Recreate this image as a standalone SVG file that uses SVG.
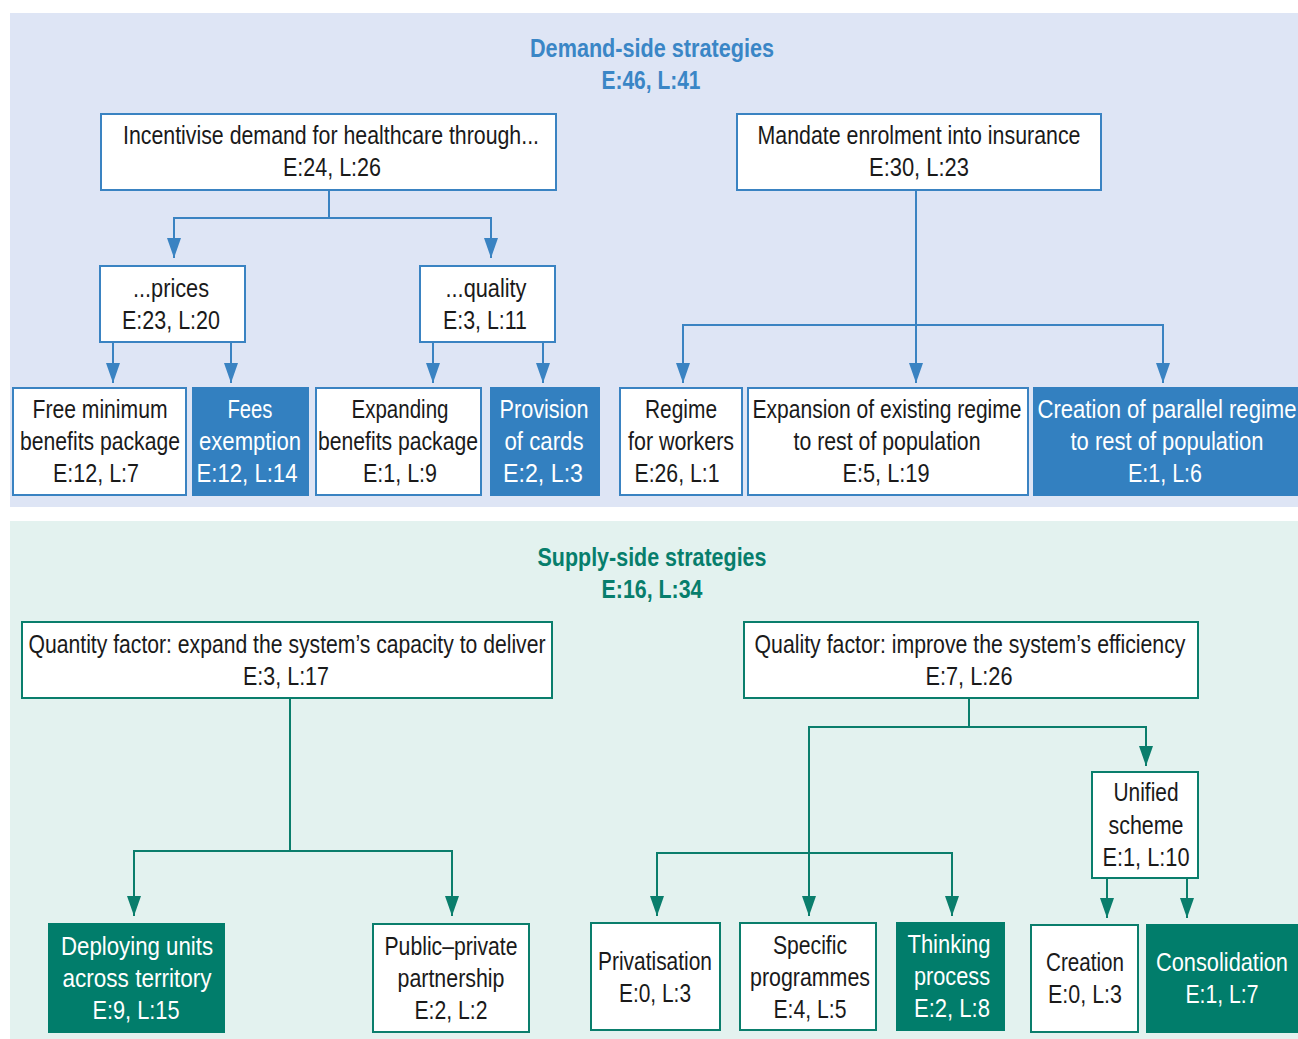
<svg xmlns="http://www.w3.org/2000/svg" width="1298" height="1039" viewBox="0 0 1298 1039">
<style>
text{font-family:"Liberation Sans Narrow","Liberation Sans",Arial,sans-serif;font-size:26px;text-anchor:middle}
.t{font-weight:bold}
.bt{fill:#3a86c6}
.gt{fill:#077e6c}
.bb{fill:#ffffff;stroke:#3a83c2;stroke-width:2}
.bf{fill:#3380c0;stroke:#3380c0;stroke-width:2}
.gb{fill:#ffffff;stroke:#0a7e6c;stroke-width:2}
.gf{fill:#017d6b;stroke:#017d6b;stroke-width:2}
.k{fill:#1a1a1a}
.w{fill:#ffffff}
.cb{fill:none;stroke:#3a83c2;stroke-width:2}
.cg{fill:none;stroke:#0a7e6c;stroke-width:2}
</style>
<defs>
<marker id="ab" markerUnits="userSpaceOnUse" markerWidth="14" markerHeight="20" refX="7" refY="20" orient="0" viewBox="0 0 14 20"><path d="M0,0 L14,0 L7,20 z" fill="#3a83c2"/></marker>
<marker id="ag" markerUnits="userSpaceOnUse" markerWidth="14" markerHeight="20" refX="7" refY="20" orient="0" viewBox="0 0 14 20"><path d="M0,0 L14,0 L7,20 z" fill="#0a7e6c"/></marker>
</defs>
<rect x="0" y="0" width="1298" height="1039" fill="#ffffff"/>
<rect x="10" y="13" width="1288" height="494" fill="#dee5f5"/>
<rect x="10" y="521" width="1288" height="518" fill="#e3f2ef"/>

<g id="title-demand">
<text class="t bt" x="652" y="57" textLength="244" lengthAdjust="spacingAndGlyphs">Demand-side strategies</text>
<text class="t bt" x="651" y="89" textLength="99" lengthAdjust="spacingAndGlyphs">E:46, L:41</text>
</g>
<g id="title-supply">
<text class="t gt" x="652" y="566" textLength="229" lengthAdjust="spacingAndGlyphs">Supply-side strategies</text>
<text class="t gt" x="652" y="598" textLength="101" lengthAdjust="spacingAndGlyphs">E:16, L:34</text>
</g>

<g id="connectors">
<path class="cb" d="M329,190 V218 H174 V258" marker-end="url(#ab)"/>
<path class="cb" d="M329,218 H491 V258" marker-end="url(#ab)"/>
<path class="cb" d="M113,342 V383" marker-end="url(#ab)"/>
<path class="cb" d="M231,342 V383" marker-end="url(#ab)"/>
<path class="cb" d="M433,342 V383" marker-end="url(#ab)"/>
<path class="cb" d="M543,342 V383" marker-end="url(#ab)"/>
<path class="cb" d="M916,190 V383" marker-end="url(#ab)"/>
<path class="cb" d="M916,325 H683 V383" marker-end="url(#ab)"/>
<path class="cb" d="M916,325 H1163 V383" marker-end="url(#ab)"/>
<path class="cg" d="M290,698 V851 H134 V916" marker-end="url(#ag)"/>
<path class="cg" d="M290,851 H452 V916" marker-end="url(#ag)"/>
<path class="cg" d="M969,698 V727 H1146 V766" marker-end="url(#ag)"/>
<path class="cg" d="M969,727 H809 V916" marker-end="url(#ag)"/>
<path class="cg" d="M809,853 H657 V916" marker-end="url(#ag)"/>
<path class="cg" d="M809,853 H952 V916" marker-end="url(#ag)"/>
<path class="cg" d="M1107,878 V918" marker-end="url(#ag)"/>
<path class="cg" d="M1187,878 V918" marker-end="url(#ag)"/>
</g>

<g id="incentivise">
<rect class="bb" x="101" y="114" width="455" height="76"/>
<text class="k" x="331" y="144" textLength="416" lengthAdjust="spacingAndGlyphs">Incentivise demand for healthcare through...</text>
<text class="k" x="332" y="176" textLength="98" lengthAdjust="spacingAndGlyphs">E:24, L:26</text>
</g>
<g id="mandate">
<rect class="bb" x="737" y="114" width="364" height="76"/>
<text class="k" x="919" y="144" textLength="323" lengthAdjust="spacingAndGlyphs">Mandate enrolment into insurance</text>
<text class="k" x="919" y="176" textLength="100" lengthAdjust="spacingAndGlyphs">E:30, L:23</text>
</g>
<g id="prices">
<rect class="bb" x="100" y="266" width="145" height="76"/>
<text class="k" x="171" y="297" textLength="76" lengthAdjust="spacingAndGlyphs">...prices</text>
<text class="k" x="171" y="329" textLength="98" lengthAdjust="spacingAndGlyphs">E:23, L:20</text>
</g>
<g id="quality">
<rect class="bb" x="420" y="266" width="135" height="76"/>
<text class="k" x="486" y="297" textLength="81" lengthAdjust="spacingAndGlyphs">...quality</text>
<text class="k" x="485" y="329" textLength="84" lengthAdjust="spacingAndGlyphs">E:3, L:11</text>
</g>
<g id="free-minimum">
<rect class="bb" x="13" y="388" width="173" height="107"/>
<text class="k" x="100" y="418" textLength="135" lengthAdjust="spacingAndGlyphs">Free minimum</text>
<text class="k" x="100" y="450" textLength="160" lengthAdjust="spacingAndGlyphs">benefits package</text>
<text class="k" x="96" y="482" textLength="86" lengthAdjust="spacingAndGlyphs">E:12, L:7</text>
</g>
<g id="fees-exemption">
<rect class="bf" x="193" y="388" width="115" height="107"/>
<text class="w" x="250" y="418" textLength="45" lengthAdjust="spacingAndGlyphs">Fees</text>
<text class="w" x="250" y="450" textLength="102" lengthAdjust="spacingAndGlyphs">exemption</text>
<text class="w" x="247" y="482" textLength="101" lengthAdjust="spacingAndGlyphs">E:12, L:14</text>
</g>
<g id="expanding">
<rect class="bb" x="316" y="388" width="165" height="107"/>
<text class="k" x="400" y="418" textLength="97" lengthAdjust="spacingAndGlyphs">Expanding</text>
<text class="k" x="398" y="450" textLength="160" lengthAdjust="spacingAndGlyphs">benefits package</text>
<text class="k" x="400" y="482" textLength="74" lengthAdjust="spacingAndGlyphs">E:1, L:9</text>
</g>
<g id="provision">
<rect class="bf" x="491" y="388" width="108" height="107"/>
<text class="w" x="544" y="418" textLength="89" lengthAdjust="spacingAndGlyphs">Provision</text>
<text class="w" x="544" y="450" textLength="79" lengthAdjust="spacingAndGlyphs">of cards</text>
<text class="w" x="543" y="482" textLength="80" lengthAdjust="spacingAndGlyphs">E:2, L:3</text>
</g>
<g id="regime-workers">
<rect class="bb" x="620" y="388" width="122" height="107"/>
<text class="k" x="681" y="418" textLength="72" lengthAdjust="spacingAndGlyphs">Regime</text>
<text class="k" x="681" y="450" textLength="106" lengthAdjust="spacingAndGlyphs">for workers</text>
<text class="k" x="677" y="482" textLength="85" lengthAdjust="spacingAndGlyphs">E:26, L:1</text>
</g>
<g id="expansion-existing">
<rect class="bb" x="748" y="388" width="280" height="107"/>
<text class="k" x="887" y="418" textLength="269" lengthAdjust="spacingAndGlyphs">Expansion of existing regime</text>
<text class="k" x="887" y="450" textLength="187" lengthAdjust="spacingAndGlyphs">to rest of population</text>
<text class="k" x="886" y="482" textLength="87" lengthAdjust="spacingAndGlyphs">E:5, L:19</text>
</g>
<g id="creation-parallel">
<rect class="bf" x="1034" y="388" width="264" height="107"/>
<text class="w" x="1167" y="418" textLength="259" lengthAdjust="spacingAndGlyphs">Creation of parallel regime</text>
<text class="w" x="1167" y="450" textLength="193" lengthAdjust="spacingAndGlyphs">to rest of population</text>
<text class="w" x="1165" y="482" textLength="74" lengthAdjust="spacingAndGlyphs">E:1, L:6</text>
</g>

<g id="quantity-factor">
<rect class="gb" x="22" y="622" width="530" height="76"/>
<text class="k" x="287" y="653" textLength="517" lengthAdjust="spacingAndGlyphs">Quantity factor: expand the system’s capacity to deliver</text>
<text class="k" x="286" y="685" textLength="86" lengthAdjust="spacingAndGlyphs">E:3, L:17</text>
</g>
<g id="quality-factor">
<rect class="gb" x="744" y="622" width="454" height="76"/>
<text class="k" x="970" y="653" textLength="431" lengthAdjust="spacingAndGlyphs">Quality factor: improve the system’s efficiency</text>
<text class="k" x="969" y="685" textLength="87" lengthAdjust="spacingAndGlyphs">E:7, L:26</text>
</g>
<g id="unified-scheme">
<rect class="gb" x="1092" y="772" width="106" height="106"/>
<text class="k" x="1146" y="801" textLength="65" lengthAdjust="spacingAndGlyphs">Unified</text>
<text class="k" x="1146" y="834" textLength="75" lengthAdjust="spacingAndGlyphs">scheme</text>
<text class="k" x="1146" y="866" textLength="87" lengthAdjust="spacingAndGlyphs">E:1, L:10</text>
</g>
<g id="deploying-units">
<rect class="gf" x="49" y="924" width="175" height="108"/>
<text class="w" x="137" y="955" textLength="152" lengthAdjust="spacingAndGlyphs">Deploying units</text>
<text class="w" x="137" y="987" textLength="149" lengthAdjust="spacingAndGlyphs">across territory</text>
<text class="w" x="136" y="1019" textLength="87" lengthAdjust="spacingAndGlyphs">E:9, L:15</text>
</g>
<g id="public-private">
<rect class="gb" x="373" y="924" width="156" height="108"/>
<text class="k" x="451" y="955" textLength="133" lengthAdjust="spacingAndGlyphs">Public–private</text>
<text class="k" x="451" y="987" textLength="107" lengthAdjust="spacingAndGlyphs">partnership</text>
<text class="k" x="451" y="1019" textLength="73" lengthAdjust="spacingAndGlyphs">E:2, L:2</text>
</g>
<g id="privatisation">
<rect class="gb" x="591" y="923" width="129" height="107"/>
<text class="k" x="655" y="970" textLength="114" lengthAdjust="spacingAndGlyphs">Privatisation</text>
<text class="k" x="655" y="1002" textLength="72" lengthAdjust="spacingAndGlyphs">E:0, L:3</text>
</g>
<g id="specific-programmes">
<rect class="gb" x="740" y="923" width="136" height="107"/>
<text class="k" x="810" y="954" textLength="74" lengthAdjust="spacingAndGlyphs">Specific</text>
<text class="k" x="810" y="986" textLength="120" lengthAdjust="spacingAndGlyphs">programmes</text>
<text class="k" x="810" y="1018" textLength="73" lengthAdjust="spacingAndGlyphs">E:4, L:5</text>
</g>
<g id="thinking-process">
<rect class="gf" x="897" y="923" width="107" height="107"/>
<text class="w" x="949" y="953" textLength="83" lengthAdjust="spacingAndGlyphs">Thinking</text>
<text class="w" x="952" y="985" textLength="76" lengthAdjust="spacingAndGlyphs">process</text>
<text class="w" x="952" y="1017" textLength="76" lengthAdjust="spacingAndGlyphs">E:2, L:8</text>
</g>
<g id="creation">
<rect class="gb" x="1031" y="925" width="107" height="107"/>
<text class="k" x="1085" y="971" textLength="78" lengthAdjust="spacingAndGlyphs">Creation</text>
<text class="k" x="1085" y="1003" textLength="74" lengthAdjust="spacingAndGlyphs">E:0, L:3</text>
</g>
<g id="consolidation">
<rect class="gf" x="1147" y="925" width="151" height="107"/>
<text class="w" x="1222" y="971" textLength="132" lengthAdjust="spacingAndGlyphs">Consolidation</text>
<text class="w" x="1222" y="1003" textLength="73" lengthAdjust="spacingAndGlyphs">E:1, L:7</text>
</g>
</svg>
